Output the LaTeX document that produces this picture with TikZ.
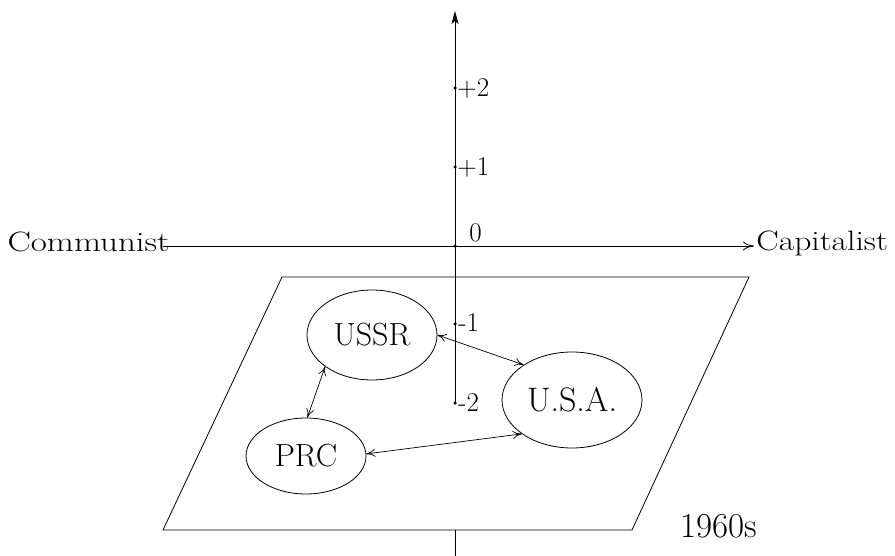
\documentclass[tikz,border=0pt]{standalone}
\usepackage{fontspec}
\usepackage{graphicx}
\usetikzlibrary{arrows.meta,shapes.geometric}
\begin{document}
\begin{tikzpicture}[x=1pt,y=-1pt, line width=0.8pt,
  bubble/.style={draw, ellipse, inner sep=0pt, font=\fontsize{32}{34}\selectfont},
  axlab/.style={font=\fontsize{28}{30}\selectfont, inner sep=0pt},
  ticklab/.style={font=\fontsize{27}{29}\selectfont, inner sep=0pt, anchor=west},
  dotm/.style={circle, fill, inner sep=0pt, minimum size=3.5pt},
  rel/.style={{To[length=9pt,width=8pt]}-{To[length=9pt,width=8pt]}, line width=0.7pt}]
\useasboundingbox (0,0) rectangle (895,556);
% plane
\coordinate (p1) at (282,277);
\coordinate (p2) at (749,277);
\coordinate (p3) at (632,530);
\coordinate (p4) at (163,530);
\draw (p1) -- (p2) -- (p3) -- (p4) -- cycle;
% axis ticks
\node[dotm] (t2) at (455,88) {};
\node[dotm] (t1) at (455,167) {};
\node[dotm] (t0) at (455,246) {};
\node[dotm] (tm1) at (455,324) {};
\node[dotm] (tm2) at (455,403) {};
\coordinate (ytop) at (455,11);
\coordinate (yb1) at (455,530);
\coordinate (yb2) at (455,556);
\draw[-{Stealth[length=13pt,width=7pt,inset=3pt]}] (tm2.center) -- (ytop);
\draw (yb1) -- (yb2);
% tick labels
\node[ticklab] (l2) at (457,88) {+2};
\node[ticklab] (l1) at (457,167) {+1};
\node[ticklab] (l0) at (469,233) {0};
\node[ticklab] (lm1) at (458,323) {-1};
\node[ticklab] (lm2) at (458,403) {-2};
% horizontal axis
\node[axlab, anchor=base east] (comm) at (170,252) {\scalebox{1.25}[1]{Communist}};
\node[axlab, anchor=base west] (cap) at (756,251) {\scalebox{1.2}[1]{Capitalist}};
\coordinate (hl) at (163,246);
\coordinate (hr) at (754,246);
\draw[-{To[length=11pt,width=9pt]}] (hl) -- (hr);
% bubbles
\node[bubble, minimum width=130pt, minimum height=90pt] (ussr) at (372,335) {USSR};
\node[bubble, minimum width=140pt, minimum height=96pt, font=\fontsize{34}{36}\selectfont] (usa) at (572,400) {U.S.A.};
\node[bubble, minimum width=120pt, minimum height=76pt] (prc) at (306,456) {PRC};
\draw[rel] (ussr.0) -- (usa.144);
\draw[rel] (ussr.214) -- (prc.88);
\draw[rel] (prc.2) -- (usa.214);
% period label
\node[font=\fontsize{35}{38}\selectfont, inner sep=0pt, anchor=base west] (yr) at (680,537) {1960s};
\end{tikzpicture}
\end{document}
